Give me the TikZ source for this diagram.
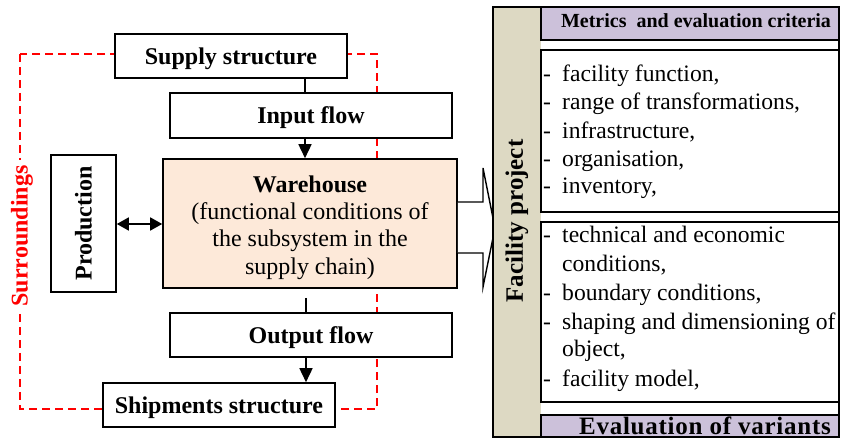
\documentclass[tikz,border=0pt]{standalone}
\usepackage{fontspec}
\setmainfont{Liberation Serif}
\usetikzlibrary{arrows.meta}
\definecolor{peach}{HTML}{FDE9D9}
\definecolor{tanc}{HTML}{DDD9C3}
\definecolor{lav}{HTML}{CCC1DA}
\begin{document}
\begin{tikzpicture}[x=1pt,y=-1pt,
  box/.style={draw=black,line width=1.6pt,fill=white,inner sep=0pt,
    font=\fontsize{24}{28}\selectfont\bfseries},
  lbl/.style={text height=17pt,text depth=0pt},
  conn/.style={line width=1.6pt},
  arr/.style={conn,-{Triangle[length=14pt,width=13pt]}},
  darr/.style={conn,{Triangle[length=12pt,width=13pt]}-{Triangle[length=12pt,width=13pt]}},
  panel/.style={draw=black,line width=1.6pt},
  item/.style={anchor=base west,inner sep=0pt,font=\fontsize{23.6}{28}\selectfont},
]
\useasboundingbox (0,0) rectangle (841,446);
% surroundings
\draw[red,line width=1.6pt,dash pattern=on 8pt off 5pt] (20,54) rectangle (377,409);
\node[fill=white,text=red,rotate=90,inner sep=6pt,
  font=\fontsize{24}{28}\selectfont\bfseries] (sur) at (22,236) {Surroundings};
% boxes
\node[box,lbl,minimum width=232pt,minimum height=44pt] (supply) at (231,56) {Supply structure};
\node[box,lbl,minimum width=282pt,minimum height=45pt] (input) at (311,115.5) {Input flow};
\node[box,fill=peach,minimum width=294pt,minimum height=129pt] (wh) at (310,223.5) {};
\node[inner sep=0pt,align=center,font=\fontsize{24}{27.3}\selectfont] (wht) at (310,227.5)
  {\textbf{Warehouse}\\(functional conditions of\\the subsystem in the\\supply chain)};
\node[box,minimum width=137pt,minimum height=65pt,rotate=90] (prod) at (83.5,223.5) {Production};
\node[box,lbl,minimum width=282pt,minimum height=44pt] (output) at (311,335) {Output flow};
\node[box,lbl,minimum width=232pt,minimum height=44pt] (ship) at (219,405) {Shipments structure};
% connectors
\coordinate (ax) at (305,0);
\coordinate (bx) at (306,0);
\draw[conn] (ax |- supply.south) -- (ax |- input.north);
\draw[arr] (ax |- input.south) -- (ax |- wh.north);
\draw[conn,shorten <=9pt] (bx |- wh.south) -- (bx |- output.north);
\draw[arr] (bx |- output.south) -- (bx |- ship.north);
\draw[darr] (prod.south |- 0,224) -- (wh.west |- 0,224);
% block arrow
\draw[line width=1.4pt,fill=white,line join=miter]
  (wh.east |- 0,202) -- (483,202) -- (483,168) -- (495,228) -- (483,287) -- (483,253) -- (wh.east |- 0,253);
% right panel
\fill[tanc] (493,7) rectangle (541,437);
\node[rotate=90,inner sep=0pt,font=\fontsize{25}{28}\selectfont\bfseries] (fp) at (517,221) {Facility project};
\draw[panel,fill=lav] (541,7) rectangle (839,40);
\node[inner sep=0pt,anchor=base,font=\fontsize{20}{24}\selectfont\bfseries] (met) at (696,28) {Metrics\ \ and evaluation criteria};
\draw[panel,fill=white] (541,50) rectangle (839,212);
\draw[panel,fill=white] (541,222) rectangle (839,402);
\draw[panel,fill=lav] (541,415) rectangle (839,437);
\node[inner sep=0pt,anchor=base,font=\fontsize{25}{28}\selectfont\bfseries\addfontfeature{LetterSpace=3}] (ev) at (705,434.5) {Evaluation of variants};
\draw[panel] (493,7) rectangle (839,437);
% list 1
\foreach \y/\t [count=\i] in {82/{facility function,},110/{range of transformations,},139/{infrastructure,},167/{organisation,},194/{inventory,}}{
  \node[item] (d\i) at (543,\y) {-};
  \node[item] (a\i) at (562,\y) {\t};
}
% list 2
\foreach \y [count=\i] in {243,301,330,386}{
  \node[item] (e\i) at (543,\y) {-};
}
\node[item] (b1) at (562,243) {technical and economic};
\node[item] (b2) at (562,272) {conditions,};
\node[item] (b3) at (562,301) {boundary conditions,};
\node[item] (b4) at (562,330) {shaping and dimensioning of};
\node[item] (b5) at (562,357) {object,};
\node[item] (b6) at (562,386) {facility model,};
\end{tikzpicture}
\end{document}
